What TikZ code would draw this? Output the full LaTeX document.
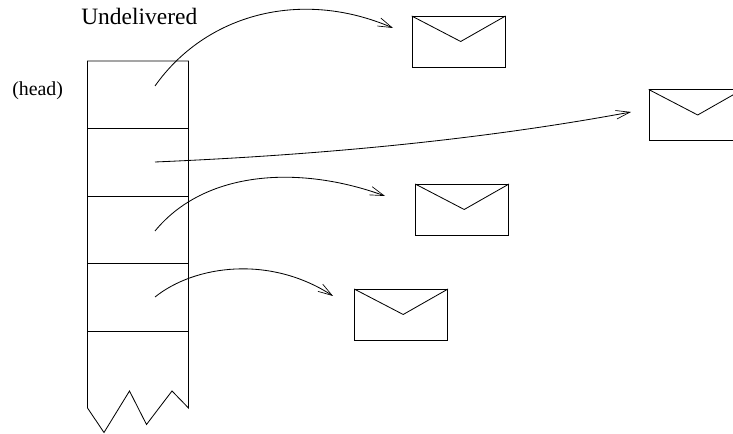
\documentclass[tikz,border=0pt]{standalone}
\usepackage{fontspec}
\setmainfont{Liberation Serif}
\usetikzlibrary{arrows.meta,calc}
\tikzset{
  ln/.style={draw=black,line width=0.62pt},
  envbox/.style={ln,rectangle,inner sep=0pt,minimum width=69.75pt,minimum height=38.25pt,anchor=north west},
  flow/.style={ln,-{Straight Barb[length=10.5pt,width=6.5pt,line width=0.5pt]}},
  lbl/.style={inner sep=0pt,anchor=base west}
}
\newcommand{\envflap}[1]{\draw[ln] (#1.north west) -- ($(#1.north west)+(49,25.5)$) -- (#1.north east);}
\begin{document}
\begin{tikzpicture}[x=0.75pt,y=-0.75pt]
\useasboundingbox (0,0) rectangle (733,434);
\clip (0,0) rectangle (733,434);
\node[lbl,font=\fontsize{17.6}{20}\selectfont] (und) at (81,25) {Undelivered};
\node[lbl,font=\fontsize{14.9}{18}\selectfont] (head) at (12,96) {(head)};
% stack
\coordinate (tl) at (87.5,61); \coordinate (tr) at (188.5,61);
\draw[ln] (87.5,408) -- (tl) -- (tr) -- (188.5,408) -- (172,391) -- (146.5,424.5) -- (129.5,391) -- (104,432.5) -- cycle;
\draw[ln] (87.5,128.5) -- (188.5,128.5);
\draw[ln] (87.5,196) -- (188.5,196);
\draw[ln] (87.5,263.5) -- (188.5,263.5);
\draw[ln] (87.5,331) -- (188.5,331);
% envelopes
\node[envbox] (e1) at (411.7,16) {};
\node[envbox] (e2) at (648.7,89.5) {};
\node[envbox] (e3) at (415.2,184) {};
\node[envbox] (e4) at (354.2,289) {};
\envflap{e1}\envflap{e2}\envflap{e3}\envflap{e4}
% arrows
\coordinate (s1) at (155,86); \coordinate (t1) at (393,28);
\coordinate (s2) at (155,162); \coordinate (t2) at (631,112);
\coordinate (s3) at (155,231); \coordinate (t3) at (385,196);
\coordinate (s4) at (155,297); \coordinate (t4) at (333,296);
\draw[flow] (s1) .. controls (205,15) and (300,-12) .. (t1);
\draw[flow] (s2) .. controls (320,155) and (480,140) .. (t2);
\draw[flow] (s3) .. controls (205,170) and (300,165) .. (t3);
\draw[flow] (s4) .. controls (195,265) and (270,255) .. (t4);
\end{tikzpicture}
\end{document}
